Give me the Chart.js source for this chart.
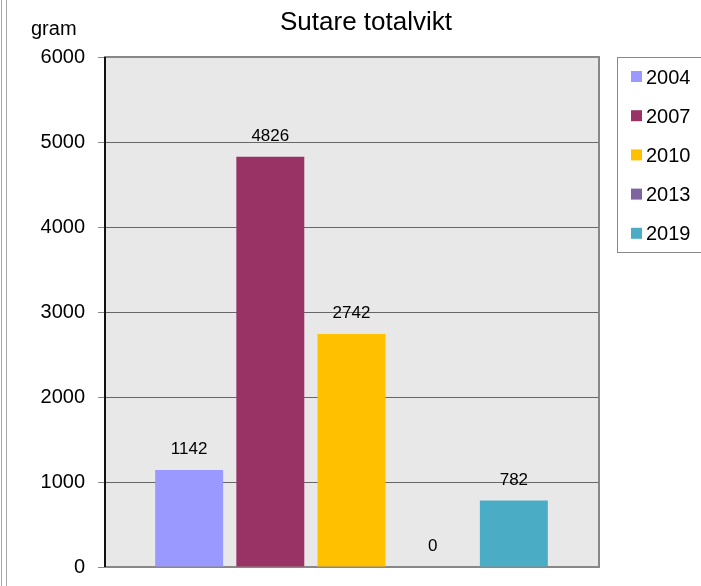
<!DOCTYPE html>
<html>
<head>
<meta charset="utf-8">
<script src="https://cdn.jsdelivr.net/npm/chart.js@4.4.1/dist/chart.umd.min.js"></script>
<style>
  html, body { margin: 0; padding: 0; background: #fff; }
  canvas { display: block; }
</style>
</head>
<body>
<canvas id="sutare-chart" width="701" height="586"></canvas>
<script>
// Sutare, total weight per survey year (gram)
const years = ['2004', '2007', '2010', '2013', '2019'];
const totalWeights = [1142, 4826, 2742, 0, 782];
const yearColors = ['#9999FF', '#993366', '#FFC000', '#8064A2', '#4BACC6'];
const yTicks = [0, 1000, 2000, 3000, 4000, 5000, 6000];

const FONT = '"Liberation Sans", Arial, sans-serif';

// background of the plot area, frame, titles, value labels and the boxed legend
const decorPlugin = {
  id: 'decor',
  beforeDraw(chart) {
    const { ctx, chartArea: a } = chart;
    ctx.save();
    ctx.fillStyle = '#e8e8e8';
    ctx.fillRect(a.left, a.top, a.right - a.left, a.bottom - a.top);
    // double rule along the left edge
    ctx.strokeStyle = '#a6a6a6';
    ctx.lineWidth = 1;
    [1.5, 6.5].forEach(x => {
      ctx.beginPath();
      ctx.moveTo(x, 0);
      ctx.lineTo(x, chart.height);
      ctx.stroke();
    });
    ctx.restore();
  },
  beforeDatasetsDraw(chart) {
    const { ctx, chartArea: a } = chart;
    ctx.save();
    ctx.strokeStyle = '#888';
    ctx.lineWidth = 2;
    ctx.beginPath();
    ctx.moveTo(a.left, a.top);
    ctx.lineTo(a.right, a.top);
    ctx.lineTo(a.right, a.bottom);
    ctx.lineTo(a.left, a.bottom);
    ctx.stroke();
    ctx.strokeStyle = '#111';
    ctx.beginPath();
    ctx.moveTo(a.left + 1, a.top);
    ctx.lineTo(a.left + 1, a.bottom);
    ctx.stroke();
    ctx.restore();
  },
  afterDraw(chart) {
    const { ctx } = chart;
    ctx.save();
    ctx.fillStyle = '#000';
    ctx.textBaseline = 'alphabetic';

    // title and unit
    ctx.font = '26px ' + FONT;
    ctx.textAlign = 'center';
    ctx.fillText('Sutare totalvikt', 366, 30);
    ctx.font = '20px ' + FONT;
    ctx.textAlign = 'left';
    ctx.fillText('gram', 31, 35);

    // value above each bar
    ctx.font = '17px ' + FONT;
    ctx.textAlign = 'center';
    chart.data.datasets.forEach((ds, i) => {
      const bar = chart.getDatasetMeta(i).data[0];
      ctx.fillText(String(ds.data[0]), bar.x, bar.y - 16);
    });

    // legend
    const lx = 617, ly = 57;
    ctx.strokeStyle = '#888';
    ctx.lineWidth = 1;
    ctx.strokeRect(lx + 0.5, ly + 0.5, 100, 195);
    ctx.font = '20px ' + FONT;
    ctx.textAlign = 'left';
    chart.data.datasets.forEach((ds, i) => {
      const cy = 76.5 + i * 39.2;
      ctx.fillStyle = ds.backgroundColor;
      ctx.fillRect(631, cy - 5.5, 11, 11);
      ctx.fillStyle = '#000';
      ctx.fillText(ds.label, 646, cy + 7);
    });
    ctx.restore();
  }
};

const datasets = years.map((year, i) => ({
  label: year,
  data: [totalWeights[i]],
  backgroundColor: yearColors[i],
  borderWidth: 0,
  categoryPercentage: 0.82,
  barPercentage: 0.837,
}));

new Chart(document.getElementById('sutare-chart'), {
  type: 'bar',
  data: { labels: ['Sutare'], datasets },
  options: {
    responsive: false,
    animation: false,
    layout: { padding: { top: 57, right: 102, bottom: 19, left: 0 } },
    scales: {
      x: { display: false },
      y: {
        min: 0,
        max: 6000,
        afterBuildTicks(scale) {
          scale.ticks = yTicks.map(v => ({ value: v }));
        },
        afterFit(scale) {
          scale.width = 104;
          scale.paddingTop = 0;
          scale.paddingBottom = 0;
        },
        grid: {
          color: '#666',
          lineWidth: 1,
          tickLength: 6,
          tickColor: '#888',
        },
        border: { display: false },
        ticks: {
          color: '#000',
          padding: 13,
          font: { family: FONT, size: 20 },
          callback: v => String(v),
        },
      },
    },
    plugins: {
      legend: { display: false },
      tooltip: { enabled: false },
    },
  },
  plugins: [decorPlugin],
});
</script>
</body>
</html>
